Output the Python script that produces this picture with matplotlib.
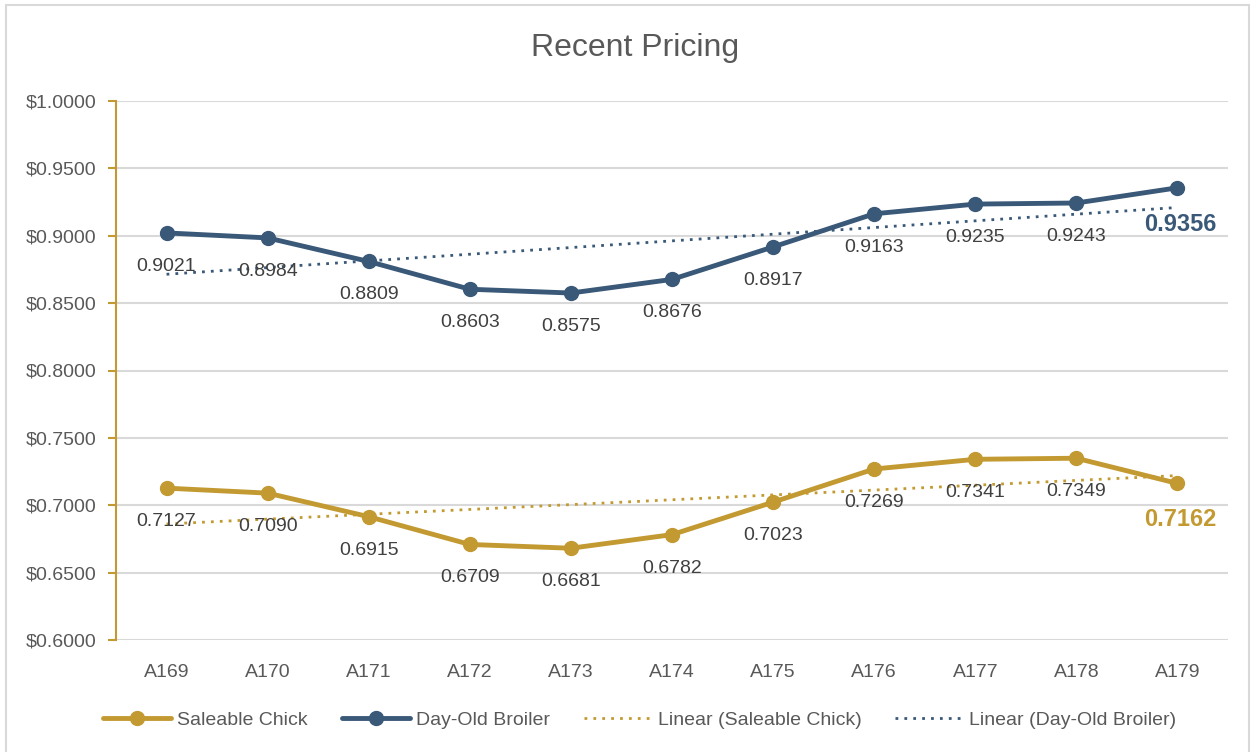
import numpy as np
import matplotlib
matplotlib.use('Agg')
import matplotlib.pyplot as plt
from matplotlib.patches import Rectangle

plt.rcParams['font.family'] = ['Liberation Sans Narrow', 'Liberation Sans', 'DejaVu Sans']

# ---- data ----
categories = ['A169', 'A170', 'A171', 'A172', 'A173', 'A174',
              'A175', 'A176', 'A177', 'A178', 'A179']
chick = [0.7127, 0.7090, 0.6915, 0.6709, 0.6681, 0.6782,
         0.7023, 0.7269, 0.7341, 0.7349, 0.7162]
broiler = [0.9021, 0.8984, 0.8809, 0.8603, 0.8575, 0.8676,
           0.8917, 0.9163, 0.9235, 0.9243, 0.9356]
yticks = [0.60, 0.65, 0.70, 0.75, 0.80, 0.85, 0.90, 0.95, 1.00]

gold = '#C39A32'
navy = '#3A5878'
grey_txt = '#595959'

x = np.arange(len(categories))

fig = plt.figure(figsize=(12.52, 7.52), dpi=100)
ax = fig.add_axes([116/1252, 1 - 640/752, (1228 - 116)/1252, (640 - 101)/752])

# outer border
fig.patches.append(Rectangle((6/1252, -0.01), (1249 - 6)/1252, 1.01 - 5/752,
                             transform=fig.transFigure, fill=False,
                             edgecolor='#D9D9D9', lw=1.5))

l1, = ax.plot(x, chick, color=gold, lw=3.5, marker='o', ms=10, zorder=4,
              solid_capstyle='round', label='Saleable Chick')
l2, = ax.plot(x, broiler, color=navy, lw=3.5, marker='o', ms=10, zorder=4,
              solid_capstyle='round', label='Day-Old Broiler')

# linear trend lines
c_fit = np.polyfit(x, chick, 1)
b_fit = np.polyfit(x, broiler, 1)
l3, = ax.plot(x, np.polyval(c_fit, x), color=gold, lw=2, ls=(0, (1, 2.2)),
              zorder=3, label='Linear (Saleable Chick)')
l4, = ax.plot(x, np.polyval(b_fit, x), color=navy, lw=2, ls=(0, (1, 2.2)),
              zorder=3, label='Linear (Day-Old Broiler)')

# data labels
for vals, col in [(chick, gold), (broiler, navy)]:
    for i, v in enumerate(vals):
        if i == len(vals) - 1:
            ax.annotate(f'{v:.4f}', (x[i], v), xytext=(2, -18), textcoords='offset points',
                        ha='center', va='top', fontsize=17, fontweight='bold', color=col)
        else:
            ax.annotate(f'{v:.4f}', (x[i], v), xytext=(0, -18), textcoords='offset points',
                        ha='center', va='top', fontsize=14, color='#404040')

ax.set_xlim(-0.5, len(categories) - 0.5)
ax.set_ylim(0.6, 1.0)
ax.set_xticks(x)
ax.set_xticklabels(categories)
ax.set_yticks(yticks)
ax.set_yticklabels([f'${v:.4f}' for v in yticks])
ax.grid(axis='y', color='#D9D9D9', lw=1.5)
ax.set_axisbelow(True)

for s in ['top', 'right', 'bottom']:
    ax.spines[s].set_visible(False)
ax.spines['left'].set_color(gold)
ax.spines['left'].set_linewidth(1.5)
ax.tick_params(axis='y', colors=gold, length=6, width=1.5, labelsize=14,
               labelcolor=grey_txt, pad=8)
ax.tick_params(axis='x', length=0, labelsize=14, labelcolor=grey_txt, pad=17)

fig.text(0.507, 1 - 48/752, 'Recent Pricing', ha='center', va='center',
         fontsize=23, color=grey_txt)

fig.legend(handles=[l1, l2, l3, l4], loc='center', bbox_to_anchor=(0.511, 1 - 720/752),
           ncol=4, frameon=False, fontsize=14, labelcolor=grey_txt,
           handlelength=3.5, handletextpad=0.3, columnspacing=1.75)

fig.savefig('out.png', dpi=100)
